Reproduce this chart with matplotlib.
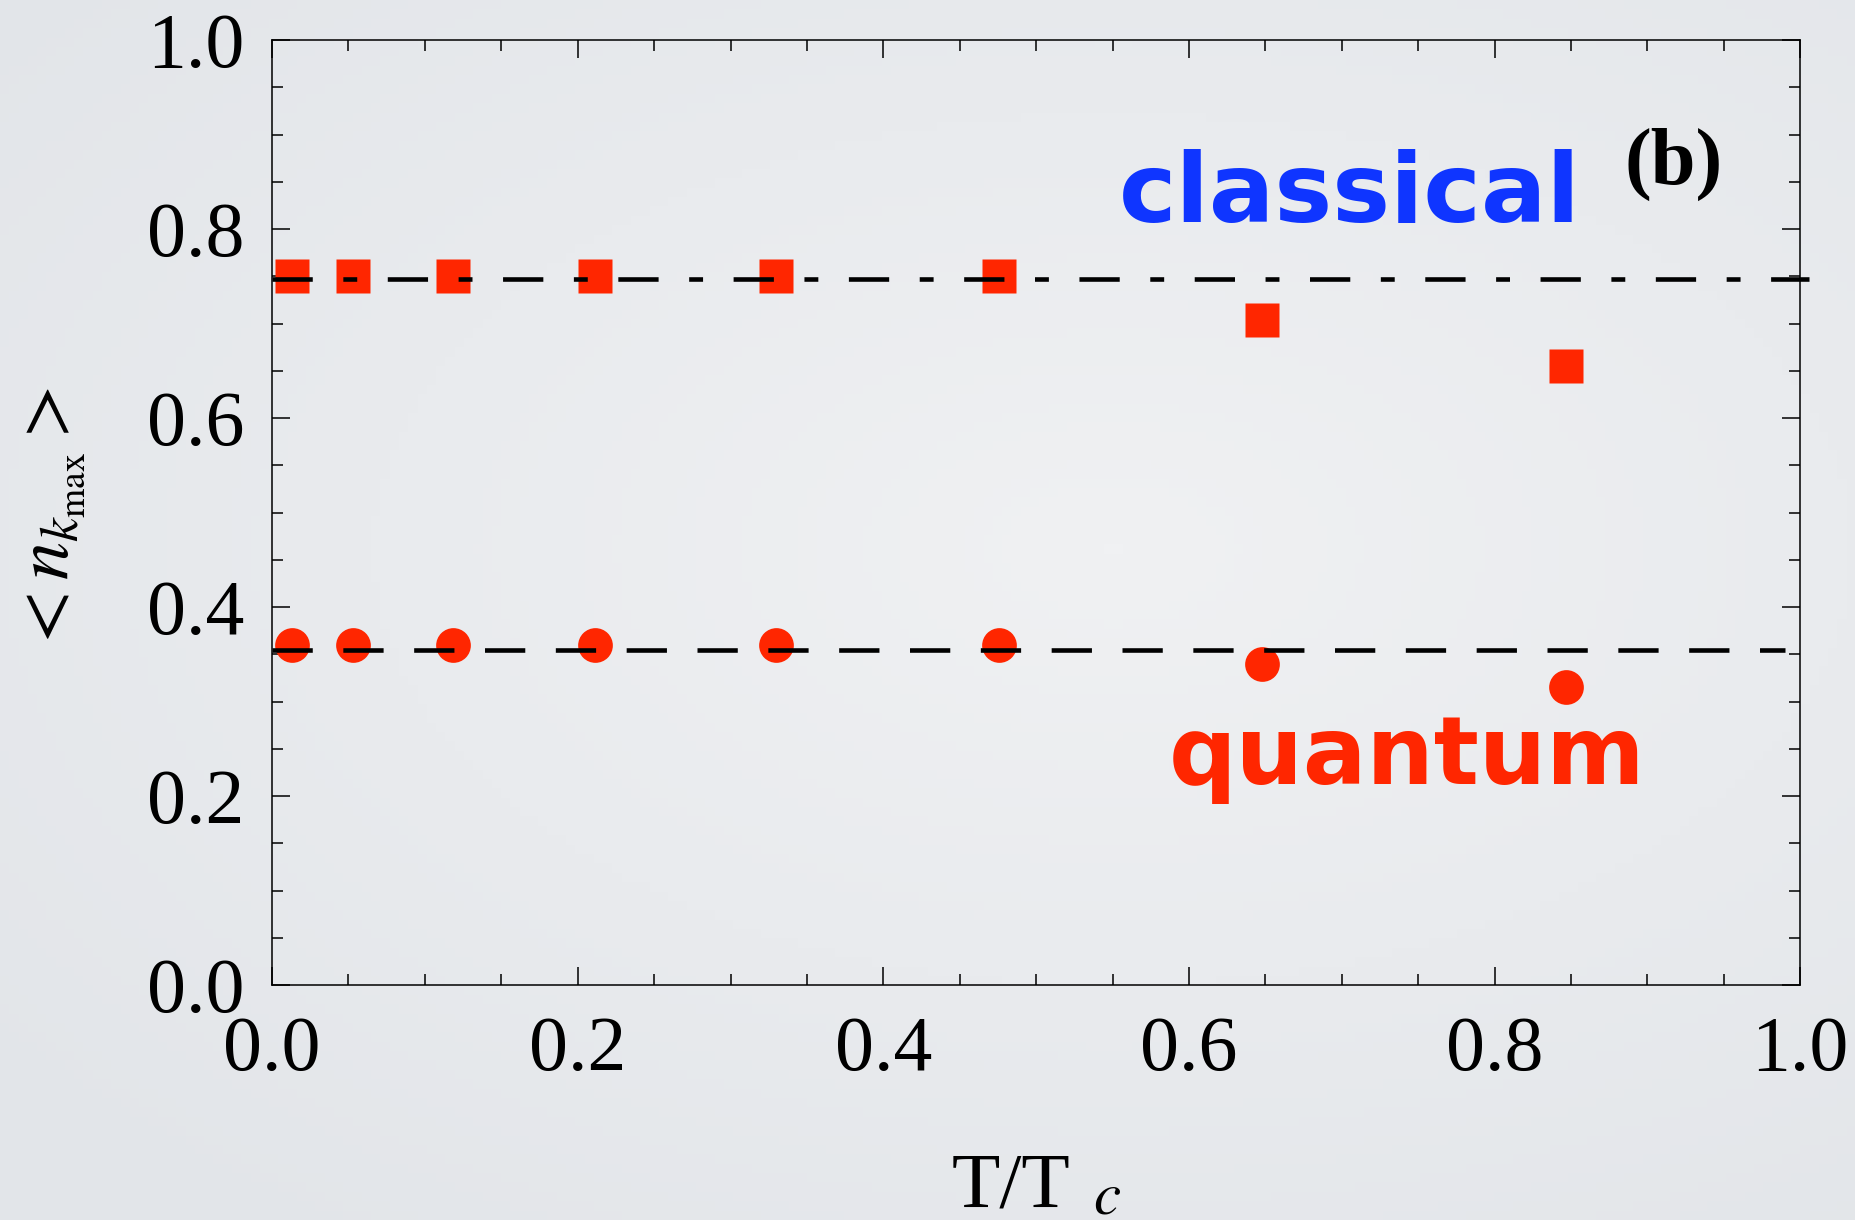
import matplotlib
matplotlib.use('Agg')
import numpy as np
import matplotlib.pyplot as plt
from matplotlib.colors import LinearSegmentedColormap
from matplotlib.ticker import MultipleLocator

plt.rcParams['mathtext.fontset'] = 'stix'
plt.rcParams['lines.scale_dashes'] = False

# data
t_over_tc = [0.013, 0.053, 0.1185, 0.2115, 0.330, 0.476, 0.648, 0.8466]
n_classical = [0.750, 0.750, 0.750, 0.750, 0.750, 0.750, 0.704, 0.655]
n_quantum = [0.360, 0.360, 0.360, 0.360, 0.360, 0.360, 0.340, 0.315]
classical_level = 0.747
quantum_level = 0.355

red = '#ff2600'
blue = '#0f35ff'
serif = 'Liberation Serif'

fig = plt.figure(figsize=(18.56, 12.2), dpi=100)

# soft slide-like background gradient
bg_ax = fig.add_axes([0, 0, 1, 1], zorder=-10)
gx, gy = np.meshgrid(np.linspace(0, 1, 200), np.linspace(0, 1, 130))
r = np.sqrt(((gx - 0.6) / 1.0) ** 2 + ((gy - 0.45) / 0.9) ** 2)
cmap = LinearSegmentedColormap.from_list('bg', ['#f0f1f3', '#e2e5e9'])
bg_ax.imshow(r, cmap=cmap, aspect='auto', extent=(0, 1, 0, 1), origin='upper',
             vmin=0.0, vmax=0.8)
bg_ax.axis('off')

ax = fig.add_axes([0.1466, 0.1926, 0.8233, 0.7746])
ax.set_facecolor('none')

ax.plot(t_over_tc, n_classical, 's', color=red, ms=25, mec='none', zorder=2)
ax.plot(t_over_tc, n_quantum, 'o', color=red, ms=25, mec='none', zorder=2)

# reference levels (drawn over the markers)
ax.plot([0, 1.006], [classical_level] * 2, color='black', lw=3.3,
        dashes=(29, 22, 10, 22), clip_on=False, zorder=3)
ax.plot([0, 0.99], [quantum_level] * 2, color='black', lw=3.3,
        dashes=(29, 22), clip_on=False, zorder=3)

ax.set_xlim(0, 1)
ax.set_ylim(0, 1)
ax.xaxis.set_major_locator(MultipleLocator(0.2))
ax.xaxis.set_minor_locator(MultipleLocator(0.05))
ax.yaxis.set_major_locator(MultipleLocator(0.2))
ax.yaxis.set_minor_locator(MultipleLocator(0.05))
ax.xaxis.set_major_formatter(lambda v, p: f'{v:.1f}')
ax.yaxis.set_major_formatter(lambda v, p: f'{v:.1f}')
ax.tick_params(which='both', direction='in', top=True, right=True, width=1.1)
ax.tick_params(which='major', length=13)
ax.tick_params(which='minor', length=8)
ax.tick_params(axis='x', which='major', pad=22)
ax.tick_params(axis='y', which='major', pad=20)
for lab in ax.get_xticklabels() + ax.get_yticklabels():
    lab.set_family(serif)
    lab.set_fontsize(56)
for s in ax.spines.values():
    s.set_linewidth(1.1)

ax.text(0.554, 0.807, 'classical', color=blue, fontsize=70, fontweight='bold',
        family='DejaVu Sans', ha='left', va='baseline')
ax.text(0.587, 0.213, 'quantum', color=red, fontsize=68, fontweight='bold',
        family='DejaVu Sans', ha='left', va='baseline')
ax.text(0.885, 0.848, '(b)', color='black', fontsize=58, fontweight='bold',
        family=serif, ha='left', va='baseline')

ax.text(0.445, -0.234, 'T/T', fontsize=57, family=serif,
        transform=ax.transAxes, ha='left', va='baseline')
ax.text(0.537, -0.2415, r'$c$', fontsize=44,
        transform=ax.transAxes, ha='left', va='baseline')
fig.text(0.027, 0.573, r'$<n_{k_{\rm max}}>$', fontsize=55, rotation=90,
         ha='center', va='center')

fig.savefig('out.png', dpi=100)
